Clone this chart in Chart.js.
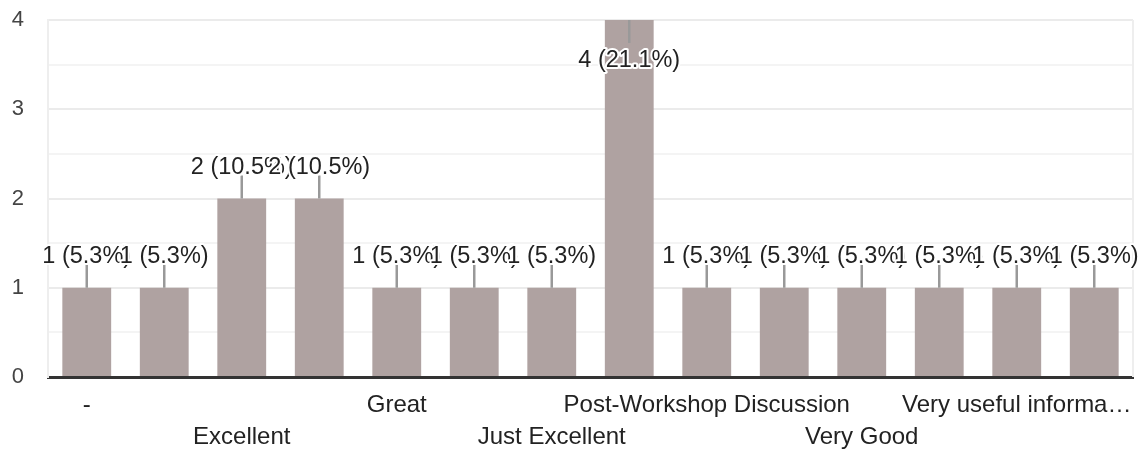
<!DOCTYPE html>
<html lang="en">
<head>
  <meta charset="UTF-8" />
  <title>Responses</title>
  <script src="https://cdn.jsdelivr.net/npm/chart.js@4.4.1/dist/chart.umd.min.js"></script>
  <style>
    html, body { margin: 0; padding: 0; background: #fff; }
    #wrap { width: 1142px; height: 455px; position: relative; }
  </style>
</head>
<body>
  <div id="wrap"><canvas id="barChart"></canvas></div>

  <script>
    // answers (only every other label fits on the axis in the original)
    const categories = [
      '-', 'Amazing', 'Excellent', 'Good', 'Great', 'Informative', 'Just Excellent',
      'Nice', 'Post-Workshop Discussion', 'Useful', 'Very Good', 'Very informative',
      'Very useful informa…', 'Wonderful'
    ]
    const counts = [1, 1, 2, 2, 1, 1, 1, 4, 1, 1, 1, 1, 1, 1]
    const yTicks = [0, 1, 2, 3, 4]

    const total = counts.reduce((a, b) => a + b, 0)
    const FONT = '"Liberation Sans", Arial, sans-serif'

    // value label with a short leader line above each bar
    const barLabels = {
      id: 'barLabels',
      afterDatasetsDraw(chart) {
        const ctx = chart.ctx
        const area = chart.chartArea
        const meta = chart.getDatasetMeta(0)
        ctx.save()
        ctx.font = '23.5px ' + FONT
        ctx.textAlign = 'center'
        ctx.textBaseline = 'alphabetic'
        ctx.lineJoin = 'round'
        meta.data.forEach((bar, i) => {
          const v = counts[i]
          const text = v + ' (' + (v / total * 100).toFixed(1) + '%)'
          let lineEnd = bar.y - 23
          let base = bar.y - 25
          if (base - 18 < area.top) {
            lineEnd = bar.y + 23
            base = lineEnd + 24
          }
          ctx.strokeStyle = '#999'
          ctx.lineWidth = 2.5
          ctx.beginPath()
          ctx.moveTo(bar.x, bar.y)
          ctx.lineTo(bar.x, lineEnd)
          ctx.stroke()
          ctx.strokeStyle = '#fff'
          ctx.lineWidth = 4
          ctx.strokeText(text, bar.x, base)
          ctx.fillStyle = '#222'
          ctx.fillText(text, bar.x, base)
        })
        ctx.restore()
      }
    }

    // thin frame line on the right side of the plot
    const rightEdge = {
      id: 'rightEdge',
      beforeDatasetsDraw(chart) {
        const { ctx, chartArea } = chart
        ctx.save()
        ctx.strokeStyle = '#eeeeee'
        ctx.lineWidth = 2
        ctx.beginPath()
        ctx.moveTo(chartArea.right, chartArea.top)
        ctx.lineTo(chartArea.right, chartArea.bottom)
        ctx.stroke()
        ctx.restore()
      }
    }

    function renderChart() {
      const ctx = document.getElementById('barChart').getContext('2d')
      new Chart(ctx, {
        type: 'bar',
        data: {
          labels: categories,
          datasets: [{
            data: counts,
            backgroundColor: '#afa2a1',
            categoryPercentage: 1,
            barPercentage: 0.63
          }]
        },
        options: {
          responsive: true,
          maintainAspectRatio: false,
          animation: false,
          layout: { padding: { top: 20, right: 9, left: 0, bottom: 0 } },
          plugins: {
            legend: { display: false },
            tooltip: { enabled: false }
          },
          scales: {
            x: {
              grid: { display: false, drawTicks: false },
              border: { display: true, color: '#333', width: 3 },
              ticks: {
                autoSkip: false,
                maxRotation: 0,
                minRotation: 0,
                padding: 12,
                color: '#222',
                font: { family: FONT, size: 24, lineHeight: 1.33 },
                callback: function (value, index) {
                  const label = categories[index]
                  if (index % 2 === 1) return ''
                  return index % 4 === 0 ? label : ['', label]
                }
              },
              afterFit(scale) {
                scale.height = 78
                scale.paddingTop = 0
              }
            },
            y: {
              min: yTicks[0],
              max: yTicks[yTicks.length - 1],
              grid: {
                drawTicks: false,
                lineWidth: 2,
                color: c => (c.tick && c.tick.value % 1 === 0) ? '#ebebeb' : '#f4f4f4'
              },
              border: { display: true, color: '#eeeeee', width: 2 },
              ticks: {
                stepSize: 0.5,
                padding: 24,
                color: '#444',
                font: { family: FONT, size: 22 },
                callback: v => yTicks.includes(v) ? v : ''
              },
              afterFit(scale) {
                scale.width = 48
                scale.paddingTop = 0
              }
            }
          }
        },
        plugins: [rightEdge, barLabels]
      })
    }

    renderChart()
  </script>
</body>
</html>
